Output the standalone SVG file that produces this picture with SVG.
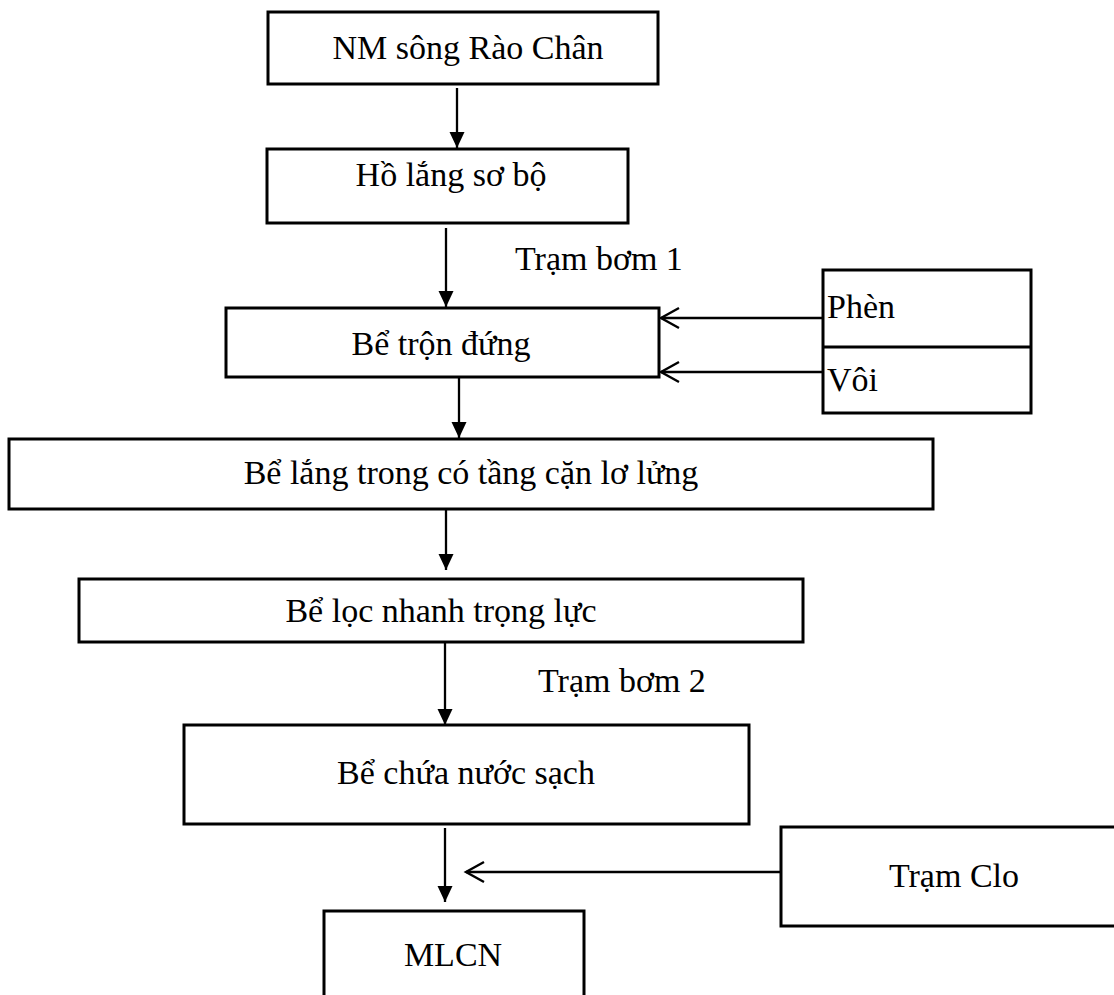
<svg xmlns="http://www.w3.org/2000/svg" width="1114" height="995" viewBox="0 0 1114 995">
  <style>
    .box { fill: #ffffff; stroke: #000000; stroke-width: 3; }
    .lbl { font-family: "Liberation Serif", "Times New Roman", serif; font-size: 34px; fill: #000000; }
    .mid { text-anchor: middle; }
    .flow { stroke: #000000; stroke-width: 2.3; fill: none; }
    .feed { stroke: #000000; stroke-width: 2.3; fill: none; }
  </style>
  <defs>
    <marker id="solidHead" markerUnits="userSpaceOnUse" viewBox="-17 -9 18 18" markerWidth="18" markerHeight="18" refX="0" refY="0" orient="auto" overflow="visible">
      <path d="M -16 -7.5 L 0 0 L -16 7.5 Z" fill="#000000"/>
    </marker>
    <marker id="openHead" markerUnits="userSpaceOnUse" viewBox="-20 -12 22 24" markerWidth="22" markerHeight="24" refX="0" refY="0" orient="auto" overflow="visible">
      <path d="M -18 -10 L 0 0 L -18 10" fill="none" stroke="#000000" stroke-width="2.4"/>
    </marker>
  </defs>

  <rect width="1114" height="995" fill="#ffffff"/>

  <g id="connectors">
    <line class="flow" x1="457" y1="88" x2="457" y2="148" marker-end="url(#solidHead)"/>
    <line class="flow" x1="446" y1="228" x2="446" y2="307" marker-end="url(#solidHead)"/>
    <line class="flow" x1="459" y1="377" x2="459" y2="438" marker-end="url(#solidHead)"/>
    <line class="flow" x1="446" y1="509" x2="446" y2="570" marker-end="url(#solidHead)"/>
    <line class="flow" x1="445" y1="642" x2="445" y2="725" marker-end="url(#solidHead)"/>
    <line class="flow" x1="445" y1="828" x2="445" y2="902" marker-end="url(#solidHead)"/>
    <line class="feed" x1="823" y1="318" x2="661" y2="318" marker-end="url(#openHead)"/>
    <line class="feed" x1="823" y1="372" x2="661" y2="372" marker-end="url(#openHead)"/>
    <line class="feed" x1="781" y1="872" x2="466" y2="872" marker-end="url(#openHead)"/>
    <text class="lbl" x="515" y="270">Trạm bơm 1</text>
    <text class="lbl" x="538" y="692">Trạm bơm 2</text>
  </g>

  <g id="node-nm-song-rao-chan">
    <rect class="box" x="268" y="12" width="390" height="72"/>
    <text class="lbl mid" x="468" y="59">NM sông Rào Chân</text>
  </g>

  <g id="node-ho-lang-so-bo">
    <rect class="box" x="267" y="149" width="361" height="74"/>
    <text class="lbl mid" x="451" y="186">Hồ lắng sơ bộ</text>
  </g>

  <g id="node-be-tron-dung">
    <rect class="box" x="226" y="308" width="433" height="69"/>
    <text class="lbl mid" x="441" y="355">Bể trộn đứng</text>
  </g>

  <g id="node-phen-voi">
    <rect class="box" x="823" y="270" width="208" height="143"/>
    <line x1="823" y1="347" x2="1031" y2="347" stroke="#000000" stroke-width="3"/>
    <text class="lbl" x="827" y="318">Phèn</text>
    <text class="lbl" x="827" y="391">Vôi</text>
  </g>

  <g id="node-be-lang-trong">
    <rect class="box" x="9" y="439" width="924" height="70"/>
    <text class="lbl mid" x="471" y="484">Bể lắng trong có tầng cặn lơ lửng</text>
  </g>

  <g id="node-be-loc-nhanh">
    <rect class="box" x="79" y="579" width="724" height="63"/>
    <text class="lbl mid" x="441" y="622">Bể lọc nhanh trọng lực</text>
  </g>

  <g id="node-be-chua-nuoc-sach">
    <rect class="box" x="184" y="725" width="565" height="99"/>
    <text class="lbl mid" x="466" y="784">Bể chứa nước sạch</text>
  </g>

  <g id="node-tram-clo">
    <rect class="box" x="781" y="827" width="345" height="99"/>
    <text class="lbl mid" x="954" y="887">Trạm Clo</text>
  </g>

  <g id="node-mlcn">
    <rect class="box" x="324" y="911" width="260" height="100"/>
    <text class="lbl mid" x="453" y="966">MLCN</text>
  </g>
</svg>
